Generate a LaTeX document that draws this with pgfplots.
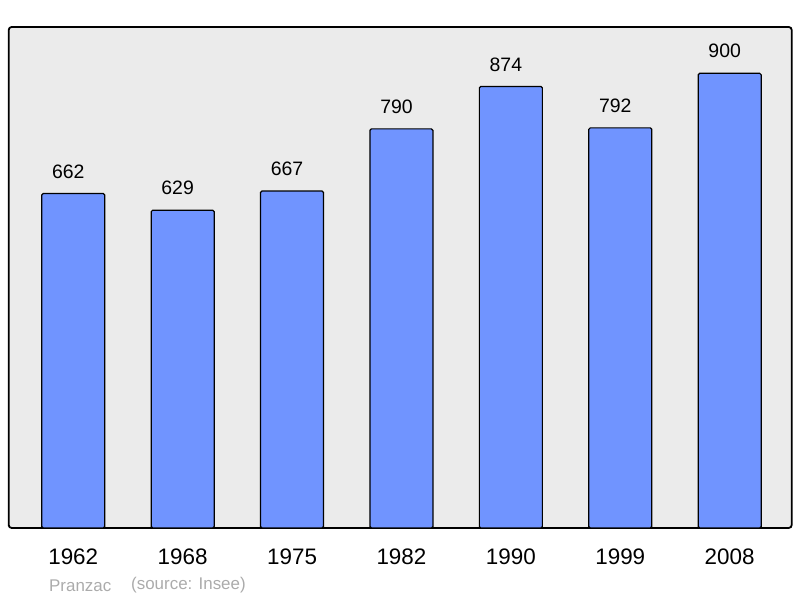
\documentclass[border=0pt]{standalone}
\usepackage{pgfplots}
\pgfplotsset{compat=1.18}
\usepackage{fontspec}
\setmainfont{Liberation Sans}
\definecolor{barblue}{HTML}{7094FF}
\definecolor{panel}{HTML}{EBEBEB}
\definecolor{footgray}{HTML}{ABABAB}

\begin{document}
\begin{tikzpicture}[x=1bp,y=1bp]
\useasboundingbox (0,0) rectangle (800,598);
\begin{axis}[
  at={(8.7bp,70bp)},
  anchor=south west,
  scale only axis,
  width=783bp,
  height=501bp,
  xmin=-0.59, xmax=6.567,
  ymin=0, ymax=991.7,
  xtick=data,
  xticklabels={1962,1968,1975,1982,1990,1999,2008},
  ytick=\empty,
  major tick length=0pt,
  xticklabel style={anchor=center, yshift=-28.7bp, font=\fontsize{22.5}{22.5}\selectfont},
  axis line style={line width=1.8bp, rounded corners=3bp},
  axis background/.style={fill=panel, rounded corners=3bp},
  /pgf/number format/assume math mode=true,
  ybar,
  bar width=63bp,
  nodes near coords,
  nodes near coords style={anchor=center, xshift=-5bp, yshift=22bp, font=\fontsize{19.5}{19.5}\selectfont, text=black},
]
\addplot[fill=barblue, draw=black, line width=1.2bp, rounded corners=1.5bp] coordinates {
  (0,662) (1,629) (2,667) (3,790) (4,874) (5,792) (6,900)
};
\end{axis}
\node[anchor=west, text=footgray, font=\fontsize{17}{17}\selectfont, inner sep=0pt] at (49,12.5) {Pranzac};
\node[anchor=west, text=footgray, font=\fontsize{17}{17}\selectfont, inner sep=0pt] at (131,12.5) {(source: Insee)};
\end{tikzpicture}
\end{document}
